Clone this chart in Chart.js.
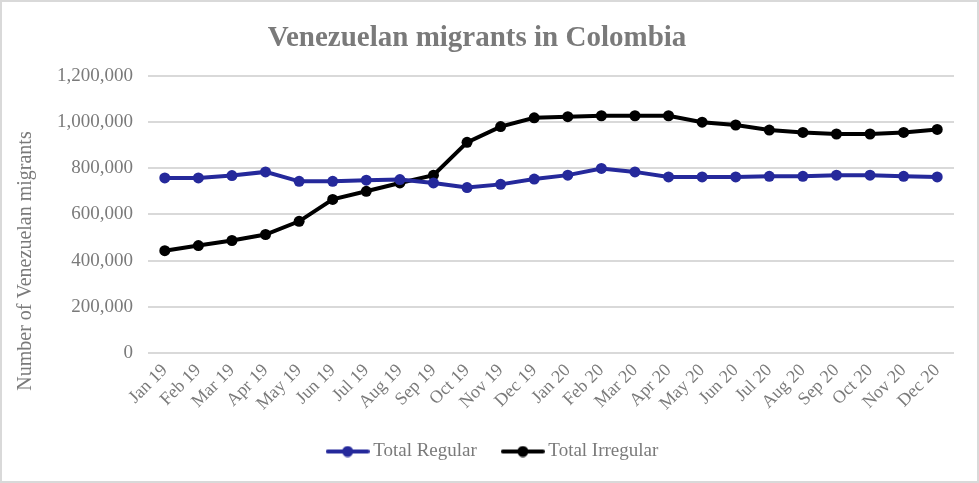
<!DOCTYPE html>
<html>
<head>
<meta charset="utf-8">
<script src="https://cdn.jsdelivr.net/npm/chart.js@4/dist/chart.umd.min.js"></script>
<style>
  html, body { margin: 0; padding: 0; background: #fff; }
  #wrap { width: 979px; height: 483px; position: relative; }
</style>
</head>
<body>
<div id="wrap"><canvas id="chart"></canvas></div>
<script>
// Datos (migrantes venezolanos en Colombia, 2019–2020)
const months = ['Jan 19', 'Feb 19', 'Mar 19', 'Apr 19', 'May 19', 'Jun 19', 'Jul 19', 'Aug 19',
  'Sep 19', 'Oct 19', 'Nov 19', 'Dec 19', 'Jan 20', 'Feb 20', 'Mar 20', 'Apr 20', 'May 20',
  'Jun 20', 'Jul 20', 'Aug 20', 'Sep 20', 'Oct 20', 'Nov 20', 'Dec 20'];

const totalRegular = [758000, 758000, 768000, 784000, 743000, 743000, 748000, 751000,
  736000, 716000, 730000, 753000, 770000, 799000, 784000, 762000, 762000,
  762000, 765000, 765000, 770000, 770000, 765000, 762000];

const totalIrregular = [443000, 465000, 487000, 513000, 570000, 665000, 700000, 736000,
  770000, 912000, 980000, 1018000, 1023000, 1027000, 1027000, 1027000, 999000,
  987000, 965000, 955000, 948000, 948000, 955000, 968000];

const yTicks = [0, 200000, 400000, 600000, 800000, 1000000, 1200000];

const TEXT = '#7a7a7a';
const GRID = '#d9d9d9';
const BLUE = '#25299b';
const SERIF = '"Liberation Serif", "Times New Roman", serif';

// Marcador de leyenda estilo Excel: línea con punto
function legendMarker(color) {
  const c = document.createElement('canvas');
  c.width = 44; c.height = 12;
  const g = c.getContext('2d');
  g.strokeStyle = color; g.lineWidth = 4; g.lineCap = 'round';
  g.beginPath(); g.moveTo(2, 6); g.lineTo(42, 6); g.stroke();
  g.fillStyle = color;
  g.beginPath(); g.arc(22, 6, 5.5, 0, Math.PI * 2); g.fill();
  return c;
}

const frame = {
  id: 'frame',
  afterLayout(chart) {
    // la leyenda va centrada en todo el lienzo, no sólo en el área con padding
    if (chart.legend) {
      chart.legend.left += 18;
      chart.legend.right += 18;
    }
  },
  beforeDraw(chart) {
    const ctx = chart.ctx;
    ctx.save();
    ctx.fillStyle = '#fff';
    ctx.fillRect(0, 0, chart.width, chart.height);
    ctx.strokeStyle = GRID;
    ctx.lineWidth = 2;
    ctx.strokeRect(1, 1, chart.width - 2, chart.height - 2);
    ctx.restore();
  },
  afterDraw(chart) {
    // título del eje Y, centrado como en Excel
    const ctx = chart.ctx;
    ctx.save();
    ctx.translate(26, 261);
    ctx.rotate(-Math.PI / 2);
    ctx.fillStyle = TEXT;
    ctx.font = '20px ' + SERIF;
    ctx.textAlign = 'center';
    ctx.textBaseline = 'middle';
    ctx.fillText('Number of Venezuelan migrants', 0, 0);
    ctx.restore();
  }
};

new Chart(document.getElementById('chart'), {
  type: 'line',
  data: {
    labels: months,
    datasets: [
      {
        label: 'Total Regular',
        data: totalRegular,
        borderColor: BLUE,
        backgroundColor: BLUE,
        borderWidth: 4,
        pointRadius: 5.5,
        pointBorderWidth: 0,
        tension: 0
      },
      {
        label: 'Total Irregular',
        data: totalIrregular,
        borderColor: '#000',
        backgroundColor: '#000',
        borderWidth: 4,
        pointRadius: 5.5,
        pointBorderWidth: 0,
        tension: 0
      }
    ]
  },
  options: {
    responsive: true,
    maintainAspectRatio: false,
    animation: false,
    layout: { padding: { left: 0, right: 25, top: 0, bottom: 12 } },
    plugins: {
      title: {
        display: true,
        text: 'Venezuelan migrants in Colombia',
        color: TEXT,
        font: { family: SERIF, size: 29, weight: 'bold' },
        padding: { top: 21, bottom: 20 }
      },
      legend: {
        position: 'bottom',
        labels: {
          color: TEXT,
          font: { family: SERIF, size: 19 },
          usePointStyle: true,
          pointStyleWidth: 32,
          padding: 30,
          generateLabels(chart) {
            return chart.data.datasets.map((ds, i) => ({
              text: ds.label,
              fontColor: TEXT,
              pointStyle: legendMarker(ds.borderColor),
              datasetIndex: i,
              hidden: false,
              lineWidth: 0
            }));
          }
        }
      },
      tooltip: { enabled: false }
    },
    scales: {
      x: {
        offset: true,
        grid: { display: false, drawTicks: false },
        border: { display: false },
        ticks: {
          color: TEXT,
          font: { family: SERIF, size: 18 },
          maxRotation: 45,
          minRotation: 45,
          autoSkip: false,
          padding: 7
        },
        afterFit(scale) { scale.height = 59; }
      },
      y: {
        min: 0,
        max: 1200000,
        afterBuildTicks(scale) { scale.ticks = yTicks.map(v => ({ value: v })); },
        grid: { color: GRID, lineWidth: 2, drawTicks: false },
        border: { display: false },
        ticks: {
          color: TEXT,
          font: { family: SERIF, size: 19 },
          padding: 15,
          callback: v => v.toLocaleString('en-US')
        },
        afterFit(scale) { scale.width = 148; }
      }
    }
  },
  plugins: [frame]
});
</script>
</body>
</html>
